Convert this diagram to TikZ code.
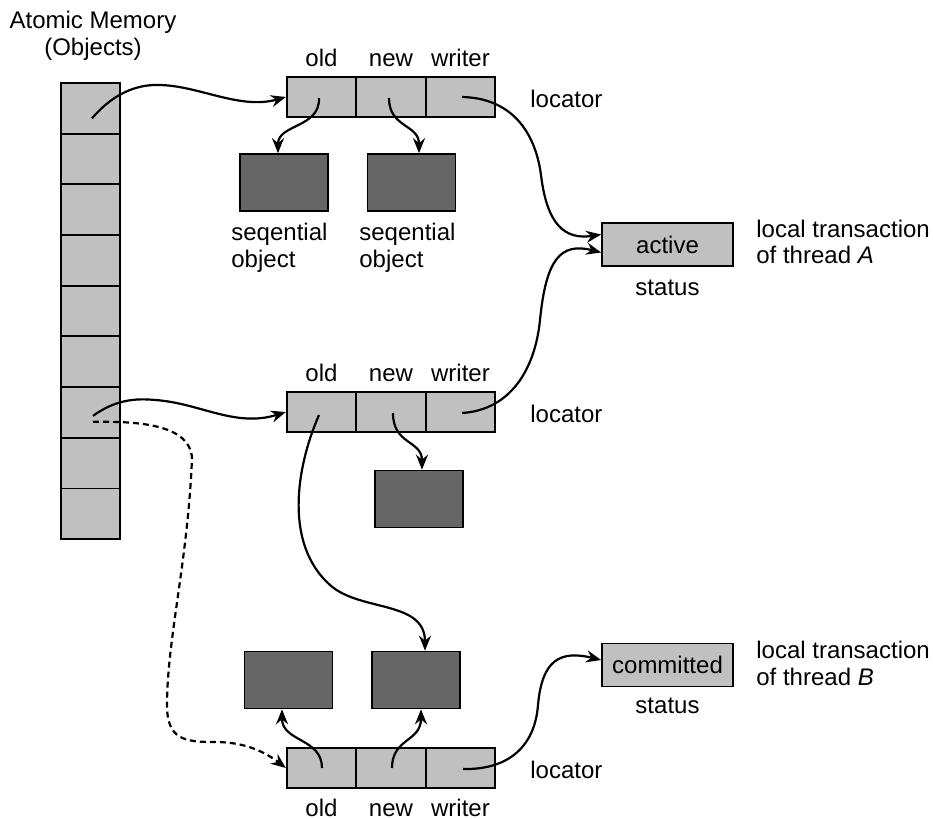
\documentclass[tikz,border=0pt]{standalone}
\usepackage{fontspec}
\setmainfont{Liberation Sans}
\usetikzlibrary{arrows.meta,calc}
\definecolor{cellgray}{HTML}{C0C0C0}
\definecolor{objgray}{HTML}{666666}
\begin{document}
\begin{tikzpicture}[x=0.5pt,y=-0.5pt,
  every node/.style={font=\fontsize{12}{13.5}\selectfont},
  box/.style={draw, line width=0.85pt, inner sep=0pt},
  memcell/.style={box, fill=cellgray, minimum width=29.5pt, minimum height=25.33pt},
  loccell/.style={box, fill=cellgray, minimum width=34.75pt, minimum height=20pt},
  objbox/.style={box, fill=objgray, minimum width=44pt, minimum height=28.5pt},
  statbox/.style={box, fill=cellgray, minimum width=65.5pt, minimum height=21.5pt},
  lbl/.style={inner sep=0pt},
  conn/.style={line width=1.1pt, -{Stealth[length=7.5pt,width=6pt,inset=2.5pt]}},
  dconn/.style={conn, dash pattern=on 3pt off 2pt}]
\useasboundingbox (0,0) rectangle (933,819);

% memory column
\foreach \i in {1,...,9} \node[memcell] (m\i) at (90.5,{83+50.67*(\i-0.5)}) {};

% locators
\node[loccell] (t1) at (321.5,97) {};
\node[loccell] (t2) at (391,97) {};
\node[loccell] (t3) at (460.5,97) {};
\node[loccell] (u1) at (321.5,412) {};
\node[loccell] (u2) at (391,412) {};
\node[loccell] (u3) at (460.5,412) {};
\node[loccell] (b1) at (321.5,768) {};
\node[loccell] (b2) at (391,768) {};
\node[loccell] (b3) at (460.5,768) {};

% objects
\node[objbox] (o1) at (284,182.5) {};
\node[objbox] (o2) at (411.5,182.5) {};
\node[objbox] (o3) at (419,499) {};
\node[objbox] (o4) at (288.5,680) {};
\node[objbox] (o5) at (416,680) {};

% status boxes
\node[statbox] (act) at (667.5,244.5) {active};
\node[statbox] (com) at (667.5,665) {committed};

% labels
\node[lbl,anchor=base] (am1) at (93,28) {Atomic Memory};
\node[lbl,anchor=base] (am2) at (93,55) {(Objects)};

\node[lbl,anchor=base] (lt1) at (321.5,66) {old};
\node[lbl,anchor=base] (lt2) at (391,66) {new};
\node[lbl,anchor=base] (lt3) at (460.5,66) {writer};
\node[lbl,anchor=base] (lu1) at (321.5,381) {old};
\node[lbl,anchor=base] (lu2) at (391,381) {new};
\node[lbl,anchor=base] (lu3) at (460.5,381) {writer};
\node[lbl,anchor=base] (lb1) at (321.5,816) {old};
\node[lbl,anchor=base] (lb2) at (391,816) {new};
\node[lbl,anchor=base] (lb3) at (460.5,816) {writer};

\node[lbl,anchor=base west] (loc1) at (530,107) {locator};
\node[lbl,anchor=base west] (loc2) at (530,422) {locator};
\node[lbl,anchor=base west] (loc3) at (530,778) {locator};

\node[lbl,anchor=base west] (sq1a) at (231,240) {seqential};
\node[lbl,anchor=base west] (sq1b) at (231,267) {object};
\node[lbl,anchor=base west] (sq2a) at (359,240) {seqential};
\node[lbl,anchor=base west] (sq2b) at (359,267) {object};

\node[lbl,anchor=base] (st1) at (667.5,295) {status};
\node[lbl,anchor=base] (st2) at (667.5,713) {status};

\node[lbl,anchor=base west] (ta1) at (756,237) {local transaction};
\node[lbl,anchor=base west] (ta2) at (756,263) {of thread \textit{A}};
\node[lbl,anchor=base west] (tb1) at (756,658) {local transaction};
\node[lbl,anchor=base west] (tb2) at (756,685) {of thread \textit{B}};

% connectors
\draw[conn] ($(m1.center)+(1.5,10)$) .. controls (112,95) and (135,84) .. (160,85)
   .. controls (200,86) and (240,110) .. (t1.west);
\draw[conn] ($(t1.center)+(-2.5,1)$) .. controls (320,128) and (278,124) .. ($(o1.north)+(-6,0)$);
\draw[conn] ($(t2.center)+(-2,1)$) .. controls (389,128) and (419,124) .. ($(o2.north)+(7.5,0)$);
\draw[conn] ($(t3.center)+(1.5,0)$) .. controls (510,98) and (535,130) .. (541,175)
   .. controls (547,225) and (565,240) .. ($(act.west)+(0,-10)$);
\draw[conn] ($(u3.center)+(1.5,1)$) .. controls (510,410) and (535,370) .. (540,320)
   .. controls (546,260) and (560,242) .. ($(act.west)+(0,8)$);
\draw[conn] ($(m7.center)+(2.5,3.5)$) .. controls (115,400) and (135,398) .. (155,400)
   .. controls (200,403) and (235,428) .. (u1.west);
\draw[dconn] ($(m7.center)+(2.5,9.5)$) .. controls (140,421) and (190,425) .. (192,458)
   .. controls (188,560) and (167,640) .. (167,705)
   .. controls (167,740) and (185,742) .. (215,742)
   .. controls (245,742) and (265,752) .. (b1.west);
\draw[conn] ($(u2.center)+(2,1)$) .. controls (393,445) and (422,440) .. ($(o3.north)+(3,0)$);
\draw[conn] ($(u1.center)+(-2.5,3)$) .. controls (295,470) and (285,545) .. (330,585)
   .. controls (360,612) and (425,600) .. ($(o5.north)+(9,0)$);
\draw[conn] ($(b1.center)+(0.5,0)$) .. controls (322,738) and (282,742) .. ($(o4.south)+(-6.5,0)$);
\draw[conn] ($(b2.center)+(1,0)$) .. controls (392,738) and (421,742) .. ($(o5.south)+(5,0)$);
\draw[conn] ($(b3.center)+(2.5,1)$) .. controls (510,770) and (535,745) .. (538,705)
   .. controls (542,660) and (560,650) .. ($(com.west)+(0,-5)$);
\end{tikzpicture}
\end{document}
